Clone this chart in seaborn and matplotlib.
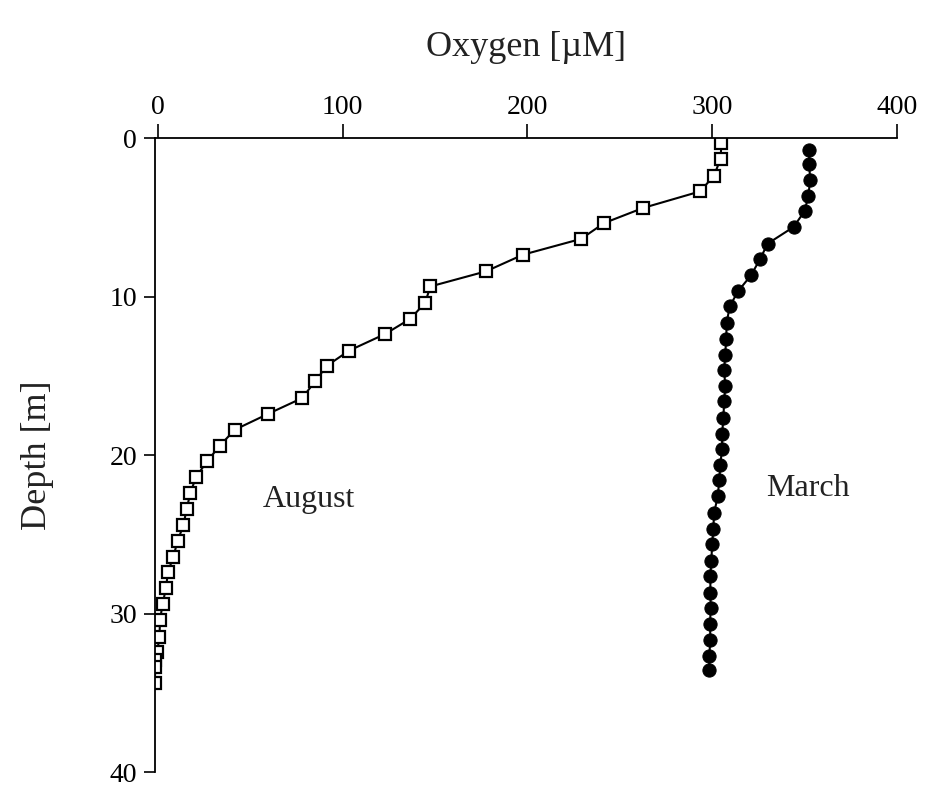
import matplotlib
matplotlib.use("Agg")
import pandas as pd
import seaborn as sns
from matplotlib import pyplot as plt

# August profile (open squares)
august_depth = [0.3, 1.3, 2.35, 3.35, 4.4, 5.35, 6.35, 7.35, 8.4, 9.35, 10.4, 11.4,
                12.35, 13.4, 14.35, 15.35, 16.4, 17.4, 18.4, 19.4, 20.4, 21.4, 22.4,
                23.4, 24.4, 25.4, 26.4, 27.4, 28.4, 29.4, 30.4, 31.45, 32.4, 32.9,
                33.4, 34.4]
august_oxygen = [305, 304.5, 301, 293.5, 262.5, 241.5, 229, 197.5, 177.5, 147.5, 144.5,
                 136.5, 123, 103.5, 91.5, 85, 78, 59.5, 41.5, 33.5, 26.5, 20.5, 17.5,
                 15.5, 13.8, 10.7, 8.3, 5.4, 4.3, 2.5, 1.1, 0.8, -0.4, -1.5, -1.4, -1.8]

# March profile (filled circles)
march_depth = [0.75, 1.6, 2.65, 3.65, 4.6, 5.6, 6.65, 7.6, 8.65, 9.65, 10.6, 11.65, 12.65,
               13.65, 14.6, 15.65, 16.6, 17.65, 18.65, 19.6, 20.6, 21.6, 22.6, 23.65,
               24.65, 25.6, 26.65, 27.65, 28.7, 29.65, 30.65, 31.65, 32.65, 33.55]
march_oxygen = [352.5, 352.5, 353, 352, 350, 344, 330, 326, 321, 314, 309.5, 307.8,
                307.6, 307, 306.5, 307, 306.5, 306, 305.4, 305.3, 304.4, 303.8, 303,
                301, 300.6, 300, 299.5, 299, 299, 299.2, 298.8, 299, 298.4, 298.4]

aug = pd.DataFrame({"oxygen": august_oxygen, "depth": august_depth})
mar = pd.DataFrame({"oxygen": march_oxygen, "depth": march_depth})

sns.set_style("ticks")
plt.rcParams["font.family"] = ["Liberation Serif", "DejaVu Serif"]

fig = plt.figure(figsize=(9.25, 7.88), dpi=100)
ax = fig.add_axes([0.1676, 0.0203, 0.8021, 0.8042])

sns.lineplot(data=aug, x="oxygen", y="depth", sort=False, estimator=None, ax=ax,
             color="black", linewidth=1.5, marker="s", markersize=8.5,
             markerfacecolor="white", markeredgecolor="black", markeredgewidth=1.6)
sns.lineplot(data=mar, x="oxygen", y="depth", sort=False, estimator=None, ax=ax,
             color="black", linewidth=1.5, marker="o", markersize=9.5,
             markerfacecolor="black", markeredgecolor="black")

ax.set_xlim(-1.6, 400)
ax.set_ylim(40, 0)
ax.set_xticks([0, 100, 200, 300, 400])
ax.set_yticks([0, 10, 20, 30, 40])
ax.xaxis.tick_top()
ax.xaxis.set_label_position("top")
for s in ("bottom", "right"):
    ax.spines[s].set_visible(False)
for s in ("top", "left"):
    ax.spines[s].set_linewidth(1.3)
    ax.spines[s].set_color("black")
ax.tick_params(axis="x", length=10, width=1.2, labelsize=20, pad=3, colors="black")
ax.tick_params(axis="y", length=8, width=1.2, labelsize=20, pad=5, colors="black")

ax.set_xlabel("Oxygen [µM]", fontsize=26, labelpad=28, color="#222222")
ax.set_ylabel("Depth [m]", fontsize=26, labelpad=40, color="#222222")

ax.text(81.5, 22.8, "August", fontsize=23, ha="center", va="center", color="#222222")
ax.text(352, 22.1, "March", fontsize=23, ha="center", va="center", color="#222222")

fig.savefig("out.png", dpi=100)
